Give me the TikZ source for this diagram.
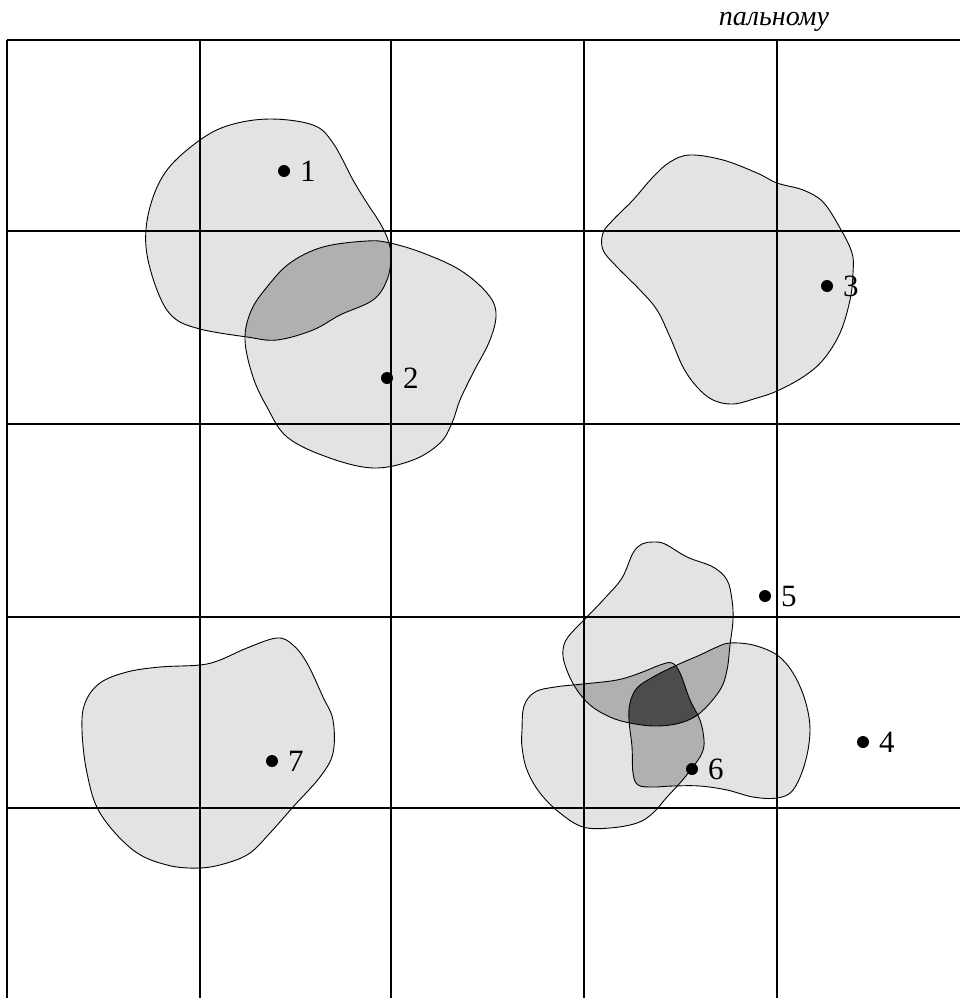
\documentclass[tikz,border=0pt]{standalone}
\usepackage{fontspec}
\setmainfont{Liberation Serif}
\definecolor{lightg}{gray}{0.89}
\definecolor{midg}{gray}{0.69}
\definecolor{darkg}{gray}{0.30}
\tikzset{
  gridline/.style={line width=1.4pt, black},
  blobline/.style={line width=0.9pt, black},
  dot/.style={circle, fill=black, inner sep=0pt, minimum size=12pt},
  lab/.style={anchor=west, inner sep=0pt, font=\fontsize{31}{35}\selectfont},
}
\def\blobone{plot[smooth cycle, tension=0.6] coordinates {(270,119) (313,125) (333,143) (353,180) (367,203) (380,223) (388,240) (391,257) (387,280) (373,300) (340,315) (313,330) (277,340) (247,337) (200,329) (173,317) (157,290) (146,247) (150,207) (167,170) (200,140) (230,125)}}
\def\blobtwo{plot[smooth cycle, tension=0.6] coordinates {(245,340) (251,311) (267,287) (290,263) (323,247) (367,241) (390,243) (423,253) (460,270) (487,293) (496,313) (490,340) (473,373) (460,400) (452,423) (440,443) (413,460) (373,468) (327,457) (287,437) (267,407) (253,377)}}
\def\blobthree{plot[smooth cycle, tension=0.6] coordinates {(690,155) (723,160) (757,173) (777,183) (803,190) (823,202) (840,228) (852,253) (853,273) (850,300) (840,333) (823,360) (803,377) (777,391) (757,398) (733,404) (713,400) (697,387) (683,367) (670,337) (657,310) (640,290) (617,267) (603,250) (603,233) (613,220) (633,200) (653,177) (670,162)}}
\def\blobseven{plot[smooth cycle, tension=0.6] coordinates {(200,665) (220,660) (247,648) (277,638) (293,645) (307,663) (323,697) (333,720) (333,753) (320,777) (293,807) (270,833) (250,853) (227,863) (200,868) (167,865) (133,850) (100,813) (87,773) (82,730) (85,703) (100,683) (127,672) (160,667)}}
\def\bloba{plot[smooth cycle, tension=0.6] coordinates {(653,542) (665,544) (687,557) (713,567) (727,580) (732,600) (733,620) (730,645) (727,670) (720,690) (700,713) (680,723) (655,726) (630,723) (610,717) (590,705) (575,687) (565,665) (563,650) (568,637) (585,619) (605,598) (622,578) (633,553) (642,544)}}
\def\blobb{plot[smooth cycle, tension=0.6] coordinates {(522,730) (524,706) (535,692) (555,687) (583,684) (617,680) (640,673) (660,665) (672,663) (680,673) (690,700) (700,720) (704,740) (702,753) (693,767) (680,783) (667,797) (653,813) (637,823) (610,828) (583,827) (560,813) (540,793) (527,770) (522,747)}}
\def\blobc{plot[smooth cycle, tension=0.6] coordinates {(630,703) (637,688) (653,677) (677,665) (700,655) (717,647) (730,643) (753,645) (777,655) (793,673) (805,700) (810,730) (805,763) (793,790) (777,798) (753,797) (727,790) (700,786) (673,786) (653,787) (638,785) (633,773) (632,747) (629,720)}}
\begin{document}
\begin{tikzpicture}[x=1pt,y=-1pt]
\useasboundingbox (0,0) rectangle (960,998);
% light fills
\fill[lightg] \blobone;
\fill[lightg] \blobtwo;
\fill[lightg] \blobthree;
\fill[lightg] \blobseven;
\fill[lightg] \bloba;
\fill[lightg] \blobb;
\fill[lightg] \blobc;
% double overlaps
\begin{scope}\clip \blobone; \fill[midg] \blobtwo; \end{scope}
\begin{scope}\clip \bloba; \fill[midg] \blobb; \fill[midg] \blobc; \end{scope}
\begin{scope}\clip \blobb; \fill[midg] \blobc; \end{scope}
% triple overlap
\begin{scope}\clip \bloba; \clip \blobb; \fill[darkg] \blobc; \end{scope}
% outlines
\draw[blobline] \blobone;
\draw[blobline] \blobtwo;
\draw[blobline] \blobthree;
\draw[blobline] \blobseven;
\draw[blobline] \bloba;
\draw[blobline] \blobb;
\draw[blobline] \blobc;
% grid
\foreach \x in {7,200,391,584,777} \draw[gridline] (\x,40) -- (\x,998);
\foreach \y in {40,231,424,617,808} \draw[gridline] (7,\y) -- (960,\y);
% points
\node[dot] (p1) at (284,171) {};
\node[dot] (p2) at (387,378) {};
\node[dot] (p3) at (827,286) {};
\node[dot] (p4) at (863,742) {};
\node[dot] (p5) at (765,596) {};
\node[dot] (p6) at (692,769) {};
\node[dot] (p7) at (272,761) {};
\node[lab] (l1) at ([xshift=16pt]p1.center) {1};
\node[lab] (l2) at ([xshift=16pt]p2.center) {2};
\node[lab] (l3) at ([xshift=16pt]p3.center) {3};
\node[lab] (l4) at ([xshift=16pt]p4.center) {4};
\node[lab] (l5) at ([xshift=16pt]p5.center) {5};
\node[lab] (l6) at ([xshift=16pt]p6.center) {6};
\node[lab] (l7) at ([xshift=16pt]p7.center) {7};
\node[anchor=base, inner sep=0pt, font=\fontsize{28}{32}\selectfont\itshape] (title) at (774,26) {пальному};
\end{tikzpicture}
\end{document}
